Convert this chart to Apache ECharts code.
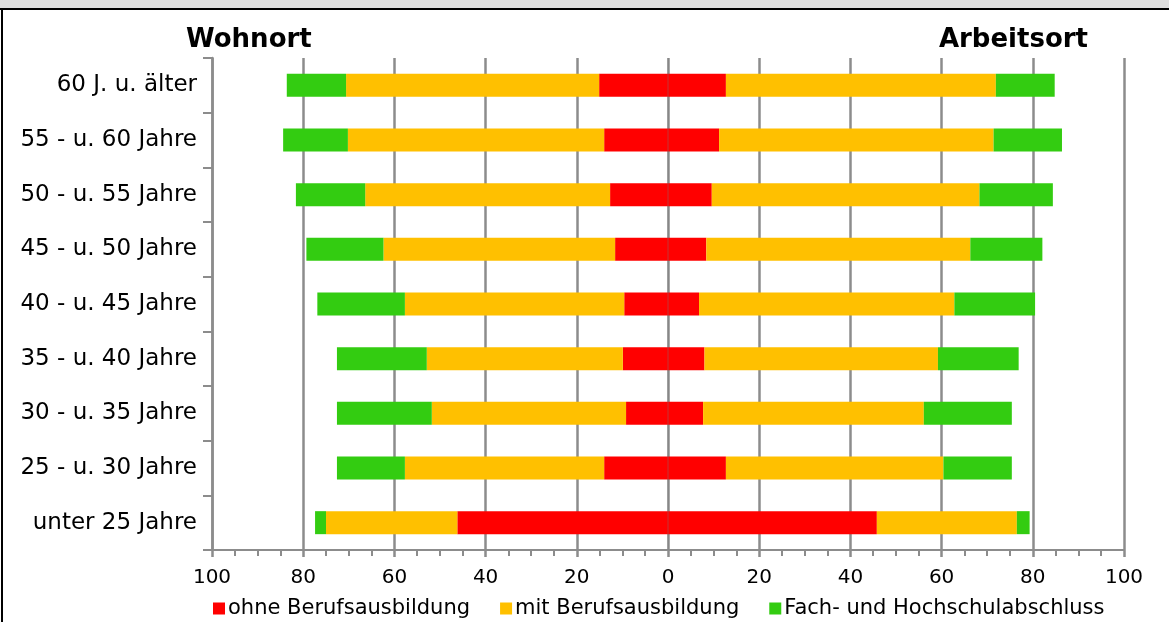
<!DOCTYPE html>
<html>
<head>
<meta charset="utf-8">
<script src="https://cdn.jsdelivr.net/npm/echarts@6/dist/echarts.min.js"></script>
<style>
html,body{margin:0;padding:0;background:#fff;}
#chart{width:1169px;height:622px;}
</style>
</head>
<body>
<div id="chart"></div>
<script>
var categories = ['60 J. u. älter','55 - u. 60 Jahre','50 - u. 55 Jahre','45 - u. 50 Jahre','40 - u. 45 Jahre','35 - u. 40 Jahre','30 - u. 35 Jahre','25 - u. 30 Jahre','unter 25 Jahre'];
var seriesNames = ['ohne Berufsausbildung','mit Berufsausbildung','Fach- und Hochschulabschluss'];
// Wohnort (left side)
var wohnOhne = [15.1,14.0,12.7,11.6,9.6,9.9,9.2,14.0,46.2];
var wohnMit  = [55.5,56.2,53.7,50.8,48.1,43.0,42.6,43.7,28.8];
var wohnFach = [13.0,14.2,15.2,16.9,19.2,19.7,20.8,14.9,2.4];
// Arbeitsort (right side)
var arbOhne = [12.7,11.2,9.6,8.4,6.8,8.0,7.7,12.7,45.8];
var arbMit  = [59.2,60.2,58.7,57.9,56.0,51.2,48.4,47.7,30.7];
var arbFach = [12.9,15.0,16.1,15.8,17.7,17.7,19.3,15.0,2.8];

var colors = ['#ff0000','#ffc000','#33cc11'];
var FONT = 'DejaVu Sans';
var gridColor = '#8c8c8c';

function neg(a){ return a.map(function(v){ return -v; }); }
function bar(name, data, stack, color){
  return {
    name: name, type: 'bar', stack: stack, data: data,
    barWidth: 23, barGap: '-100%',
    itemStyle: { color: color },
    emphasis: { disabled: true },
    xAxisIndex: 0, yAxisIndex: 0
  };
}

var series = [
  bar(seriesNames[0], neg(wohnOhne), 'wohn', colors[0]),
  bar(seriesNames[1], neg(wohnMit), 'wohn', colors[1]),
  bar(seriesNames[2], neg(wohnFach), 'wohn', colors[2]),
  bar(seriesNames[0], arbOhne, 'arb', colors[0]),
  bar(seriesNames[1], arbMit, 'arb', colors[1]),
  bar(seriesNames[2], arbFach, 'arb', colors[2])
];
series[5].markLine = {
  silent: true, symbol: 'none', label: { show: false },
  lineStyle: { color: 'rgba(120,120,120,0.22)', width: 2, type: 'solid' },
  data: [{ xAxis: 0 }]
};

var chart = echarts.init(document.getElementById('chart'), null, {renderer:'canvas'});
chart.setOption({
  animation: false,
  color: colors,
  title: [
    { text: 'Wohnort', left: 181, top: 22, textStyle: { fontFamily: FONT, fontWeight: 'bold', fontSize: 26, color: '#000' } },
    { text: 'Arbeitsort', right: 76, top: 22, textStyle: { fontFamily: FONT, fontWeight: 'bold', fontSize: 26, color: '#000' } }
  ],
  legend: {
    data: seriesNames,
    bottom: -2, left: 208,
    itemWidth: 12, itemHeight: 12, itemGap: 30,
    icon: 'rect',
    textStyle: { fontFamily: FONT, fontSize: 21, color: '#000', padding: [0,0,0,-2] }
  },
  grid: { left: 212, right: 45, top: 58, bottom: 72, containLabel: false },
  xAxis: [{
    type: 'value', min: -100, max: 100, interval: 20,
    axisLine: { show: true, lineStyle: { color: gridColor, width: 2 } },
    axisTick: { show: false },
    minorTick: { show: true, splitNumber: 4, length: 6, lineStyle: { color: gridColor, width: 2 } },
    axisLabel: { margin: 18, fontFamily: FONT, fontSize: 20, color: '#000', formatter: function(v){ return String(Math.abs(v)); } },
    splitLine: { show: true, lineStyle: { color: gridColor, width: 2.5 } }
  },{
    type: 'value', min: -100, max: 100, interval: 20, position: 'bottom',
    axisLine: { show: false },
    axisTick: { show: true, inside: false, length: 7, lineStyle: { color: gridColor, width: 2.5 } },
    axisLabel: { show: false },
    splitLine: { show: false }
  }],
  yAxis: {
    type: 'category', data: categories, inverse: true,
    axisLine: { show: true, onZero: false, lineStyle: { color: gridColor, width: 2.5 } },
    axisTick: { show: true, length: 9, lineStyle: { color: gridColor, width: 2 } },
    axisLabel: { margin: 15, fontFamily: FONT, fontSize: 23, color: '#000' }
  },
  series: series,
  graphic: [
    { type: 'rect', shape: { x: 0, y: 0, width: 1169, height: 8 }, style: { fill: '#dedede' }, silent: true },
    { type: 'rect', shape: { x: 0, y: 8, width: 1169, height: 2 }, style: { fill: '#000' }, silent: true },
    { type: 'rect', shape: { x: 1, y: 8, width: 2, height: 614 }, style: { fill: '#000' }, silent: true }
  ]
});
</script>
</body>
</html>
